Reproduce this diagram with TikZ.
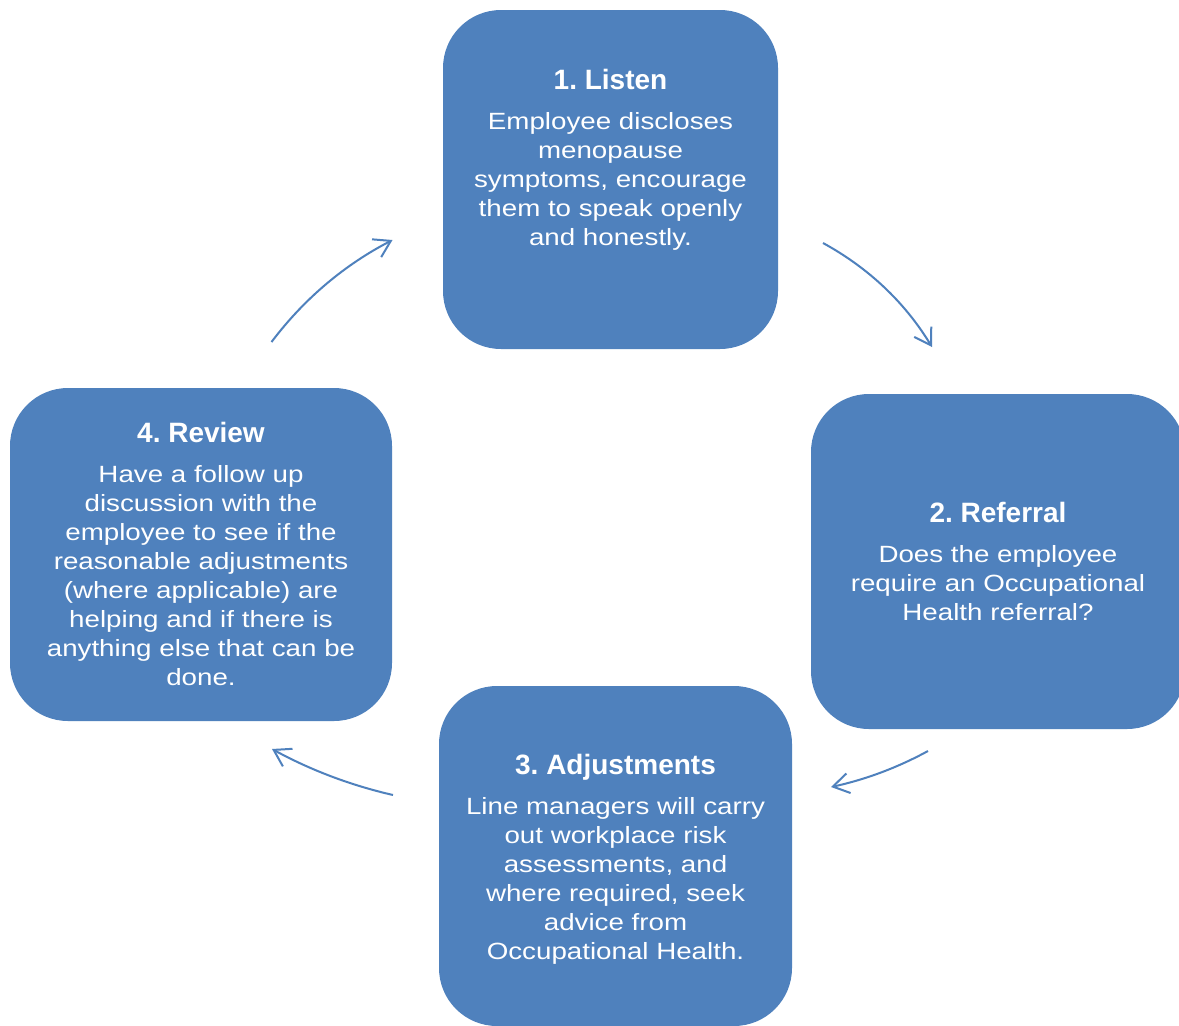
\documentclass[tikz,border=0pt]{standalone}
\usepackage{fontspec}
\setmainfont{Liberation Sans}
\newfontfamily\bodyfont[FakeStretch=1.18]{Liberation Sans}
\usetikzlibrary{arrows.meta}
\definecolor{boxblue}{HTML}{4F81BD}
\definecolor{arrowblue}{HTML}{4F81BD}
\begin{document}
\frenchspacing
\begin{tikzpicture}[x=1pt,y=-1pt,
  box/.style={fill=boxblue, draw=none, rounded corners=58pt, inner sep=0pt, outer sep=0pt},
  titletext/.style={text=white, font=\frenchspacing\bfseries\fontsize{28}{30}\selectfont, inner sep=0pt, anchor=base},
  bodytext/.style={text=white, font=\frenchspacing\bodyfont\fontsize{23.5}{29}\selectfont, inner sep=0pt, anchor=north, align=center},
  flow/.style={draw=arrowblue, line width=2pt, -{Straight Barb[length=16pt,width=20pt]}}]
\clip (0,0) rectangle (1179,1026);
\fill[white] (0,0) rectangle (1179,1026);

% boxes
\node[box, minimum width=335pt, minimum height=339pt] (listen) at (610.5,179.5) {};
\node[box, minimum width=374pt, minimum height=335pt] (referral) at (998,561.5) {};
\node[box, minimum width=353pt, minimum height=340pt] (adjust) at (615.5,856) {};
\node[box, minimum width=382pt, minimum height=333pt] (review) at (201,554.5) {};

% texts
\node[titletext] (t1) at (610.5,89.3) {1. Listen};
\node[bodytext] (b1) at (610.5,109.3) {\rule{0pt}{20pt}Employee discloses\\menopause\\symptoms, encourage\\them to speak openly\\and honestly.};

\node[titletext] (t2) at (998,522) {2. Referral};
\node[bodytext] (b2) at (998,542) {\rule{0pt}{20pt}Does the employee\\require an Occupational\\Health referral?};

\node[titletext] (t3) at (615.5,774) {3. Adjustments};
\node[bodytext] (b3) at (615.5,794) {\rule{0pt}{20pt}Line managers will carry\\out workplace risk\\assessments, and\\where required, seek\\advice from\\Occupational Health.};

\node[titletext] (t4) at (201,442) {4. Review};
\node[bodytext] (b4) at (201,462) {\rule{0pt}{20pt}Have a follow up\\discussion with the\\employee to see if the\\reasonable adjustments\\(where applicable) are\\helping and if there is\\anything else that can be\\done.};

% arrow end points
\coordinate (a1s) at (271.5,342);
\coordinate (a1e) at (392.5,240);
\coordinate (a2s) at (823,243);
\coordinate (a2e) at (932,347);
\coordinate (a3s) at (928,751);
\coordinate (a3e) at (831,787);
\coordinate (a4s) at (393,795);
\coordinate (a4e) at (272,749);

\draw[flow] (a1s) .. controls (304.1,298.8) and (344.5,264.8) .. (a1e);
\draw[flow] (a2s) .. controls (868.6,267.9) and (905,302.5) .. (a2e);
\draw[flow] (a3s) .. controls (897.4,767.7) and (865,779.7) .. (a3e);
\draw[flow] (a4s) .. controls (350.6,785.3) and (310.2,769.9) .. (a4e);
\end{tikzpicture}
\end{document}
